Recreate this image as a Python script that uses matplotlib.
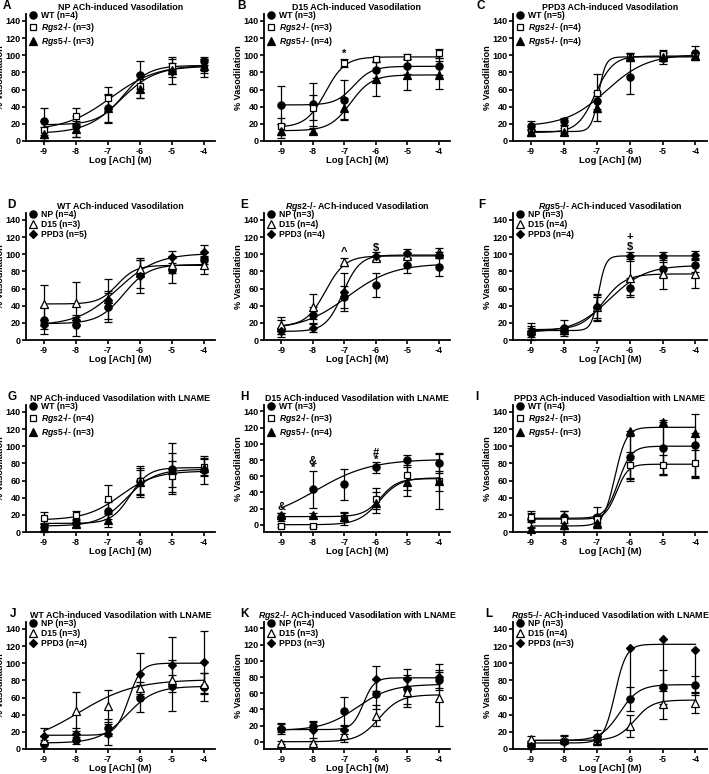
import numpy as np
import matplotlib
matplotlib.use('Agg')
import matplotlib.pyplot as plt
from matplotlib.lines import Line2D

plt.rcParams['font.family'] = ['Liberation Sans', 'DejaVu Sans']
plt.rcParams['font.weight'] = 'bold'
plt.rcParams['mathtext.fontset'] = 'custom'
plt.rcParams['mathtext.it'] = 'Liberation Sans:italic:bold'
plt.rcParams['mathtext.rm'] = 'Liberation Sans:bold'

LOG_ACH = [-9, -8, -7, -6, -5, -4]
Y_TICKS = [0, 20, 40, 60, 80, 100, 120, 140]

# mean % vasodilation, SEM, fitted curve (bottom, top, logEC50, hill)
NP_WT = [23, 17, 38, 77, 82, 93]
NP_WT_ERR = [16, 12, 17, 16, 16, 5]
NP_WT_FIT = [19, 88, -6.5, 1.1]
NP_RGS2 = [13, 29, 50, 64, 87, 85]
NP_RGS2_ERR = [10, 9, 13, 14, 9, 10]
NP_RGS2_FIT = [12, 89, -6.9, 0.6]
NP_RGS5 = [8, 14, 38, 61, 83, 87]
NP_RGS5_ERR = [8, 9, 16, 11, 8, 8]
NP_RGS5_FIT = [9, 87, -6.6, 0.8]

D15_WT = [42, 43, 48, 83, 87, 87]
D15_WT_ERR = [22, 25, 23, 10, 9, 10]
D15_WT_FIT = [42, 87, -6.7, 1.5]
D15_RGS2 = [17, 39, 91, 95, 98, 102]
D15_RGS2_ERR = [10, 15, 5, 3, 3, 5]
D15_RGS2_FIT = [16, 98, -7.6, 1.4]
D15_RGS5 = [12, 12, 38, 72, 77, 77]
D15_RGS5_ERR = [8, 3, 12, 20, 18, 16]
D15_RGS5_FIT = [12, 77, -6.8, 1.3]

PPD3_WT = [18, 23, 47, 75, 97, 103]
PPD3_WT_ERR = [5, 4, 10, 20, 7, 8]
PPD3_WT_FIT = [17, 101, -6.7, 0.7]
PPD3_RGS2 = [10, 14, 56, 98, 101, 99]
PPD3_RGS2_ERR = [3, 5, 22, 5, 5, 4]
PPD3_RGS2_FIT = [10, 99, -7.05, 1.6]
PPD3_RGS5 = [10, 11, 38, 98, 98, 99]
PPD3_RGS5_ERR = [4, 4, 15, 4, 5, 5]
PPD3_RGS5_FIT = [11, 98, -6.95, 4.0]

NPL_WT = [6, 10, 25, 59, 74, 72]
NPL_WT_ERR = [5, 4, 10, 16, 30, 16]
NPL_WT_FIT = [7, 73, -6.4, 1.0]
NPL_RGS2 = [16, 20, 38, 59, 65, 76]
NPL_RGS2_ERR = [7, 5, 17, 18, 18, 10]
NPL_RGS2_FIT = [14, 71, -6.6, 0.8]
NPL_RGS5 = [5, 9, 14, 58, 72, 75]
NPL_RGS5_ERR = [4, 3, 8, 14, 20, 10]
NPL_RGS5_FIT = [10, 75, -6.3, 1.5]

D15L_WT = [10, 44, 50, 71, 80, 76]
D15L_WT_ERR = [5, 23, 19, 7, 6, 12]
D15L_WT_FIT = [4, 81, -7.9, 0.5]
D15L_RGS2 = [-1, -1, 8, 32, 61, 54]
D15L_RGS2_ERR = [2, 2, 8, 13, 18, 35]
D15L_RGS2_FIT = [0, 58, -5.9, 1.3]
D15L_RGS5 = [12, 12, 10, 27, 53, 54]
D15L_RGS5_ERR = [3, 3, 5, 13, 18, 12]
D15L_RGS5_FIT = [10, 57, -5.85, 1.6]

PPD3L_WT = [15, 17, 17, 87, 98, 101]
PPD3L_WT_ERR = [10, 7, 12, 25, 32, 36]
PPD3L_WT_FIT = [16, 100, -6.35, 2.2]
PPD3L_RGS2 = [17, 14, 15, 78, 78, 80]
PPD3L_RGS2_ERR = [5, 10, 5, 15, 12, 16]
PPD3L_RGS2_FIT = [15, 79, -6.4, 2.5]
PPD3L_RGS5 = [3, 8, 10, 118, 128, 115]
PPD3L_RGS5_ERR_LO = [3, 8, 5, 58, 60, 52]
PPD3L_RGS5_ERR_HI = [3, 8, 5, 0, 0, 0]
PPD3L_RGS5_FIT = [7, 122, -6.45, 2.5]

RGS2 = r'$\mathit{Rgs2}$-/-'
RGS5 = r'$\mathit{Rgs5}$-/-'

GENO_STYLE = [dict(marker='o', mfc='k', ms=5.2),
              dict(marker='s', mfc='white', ms=5.0),
              dict(marker='^', mfc='k', ms=5.4)]
COND_STYLE = [dict(marker='o', mfc='k', ms=5.2),
              dict(marker='^', mfc='white', ms=5.4),
              dict(marker='D', mfc='k', ms=4.2)]

PANELS = [
    ('A', 'NP ACh-induced Vasodilation', GENO_STYLE,
     ['WT (n=4)', RGS2 + ' (n=3)', RGS5 + ' (n=3)'],
     [(NP_WT, NP_WT_ERR, NP_WT_FIT), (NP_RGS2, NP_RGS2_ERR, NP_RGS2_FIT),
      (NP_RGS5, NP_RGS5_ERR, NP_RGS5_FIT)], [], 0),
    ('B', 'D15 ACh-induced Vasodilation', GENO_STYLE,
     ['WT (n=3)', RGS2 + ' (n=3)', RGS5 + ' (n=4)'],
     [(D15_WT, D15_WT_ERR, D15_WT_FIT), (D15_RGS2, D15_RGS2_ERR, D15_RGS2_FIT),
      (D15_RGS5, D15_RGS5_ERR, D15_RGS5_FIT)], [(-7, 101, '*')], 0),
    ('C', 'PPD3 ACh-induced Vasodilation', GENO_STYLE,
     ['WT (n=5)', RGS2 + ' (n=4)', RGS5 + ' (n=4)'],
     [(PPD3_WT, PPD3_WT_ERR, PPD3_WT_FIT), (PPD3_RGS2, PPD3_RGS2_ERR, PPD3_RGS2_FIT),
      (PPD3_RGS5, PPD3_RGS5_ERR, PPD3_RGS5_FIT)], [], 0),
    ('D', 'WT ACh-induced Vasodilation', COND_STYLE,
     ['NP (n=4)', 'D15 (n=3)', 'PPD3 (n=5)'],
     [(NP_WT, NP_WT_ERR, NP_WT_FIT), (D15_WT, D15_WT_ERR, D15_WT_FIT),
      (PPD3_WT, PPD3_WT_ERR, PPD3_WT_FIT)], [], 0),
    ('E', RGS2 + ' ACh-induced Vasodilation', COND_STYLE,
     ['NP (n=3)', 'D15 (n=4)', 'PPD3 (n=4)'],
     [(NP_RGS2, NP_RGS2_ERR, NP_RGS2_FIT), (D15_RGS2, D15_RGS2_ERR, D15_RGS2_FIT),
      (PPD3_RGS2, PPD3_RGS2_ERR, PPD3_RGS2_FIT)], [(-7, 103, '^'), (-6, 107, '$')], 0),
    ('F', RGS5 + ' ACh-induced Vasodilation', COND_STYLE,
     ['NP (n=3)', 'D15 (n=4)', 'PPD3 (n=4)'],
     [(NP_RGS5, NP_RGS5_ERR, NP_RGS5_FIT), (D15_RGS5, D15_RGS5_ERR, D15_RGS5_FIT),
      (PPD3_RGS5, PPD3_RGS5_ERR, PPD3_RGS5_FIT)], [(-6, 120, '+'), (-6, 108, '$')], 0),
    ('G', 'NP ACh-induced Vasodilation with LNAME', GENO_STYLE,
     ['WT (n=3)', RGS2 + ' (n=4)', RGS5 + ' (n=3)'],
     [(NPL_WT, NPL_WT_ERR, NPL_WT_FIT), (NPL_RGS2, NPL_RGS2_ERR, NPL_RGS2_FIT),
      (NPL_RGS5, NPL_RGS5_ERR, NPL_RGS5_FIT)], [], 0),
    ('H', 'D15 ACh-induced Vasodilation with LNAME', GENO_STYLE,
     ['WT (n=3)', RGS2 + ' (n=3)', RGS5 + ' (n=4)'],
     [(D15L_WT, D15L_WT_ERR, D15L_WT_FIT), (D15L_RGS2, D15L_RGS2_ERR, D15L_RGS2_FIT),
      (D15L_RGS5, D15L_RGS5_ERR, D15L_RGS5_FIT)],
     [(-9, 22, '&'), (-8, 79, '&'), (-8, 70, '*'), (-6, 89, '#'), (-6, 80, '*')], -9),
    ('I', 'PPD3 ACh-induced Vasodialtion with LNAME', GENO_STYLE,
     ['WT (n=4)', RGS2 + ' (n=3)', RGS5 + ' (n=3)'],
     [(PPD3L_WT, PPD3L_WT_ERR, PPD3L_WT_FIT),
      (PPD3L_RGS2, PPD3L_RGS2_ERR, PPD3L_RGS2_FIT),
      (PPD3L_RGS5, [PPD3L_RGS5_ERR_LO, PPD3L_RGS5_ERR_HI], PPD3L_RGS5_FIT)], [], 0),
    ('J', 'WT ACh-induced Vasodilation with LNAME', COND_STYLE,
     ['NP (n=3)', 'D15 (n=3)', 'PPD3 (n=4)'],
     [(NPL_WT, NPL_WT_ERR, NPL_WT_FIT), (D15L_WT, D15L_WT_ERR, D15L_WT_FIT),
      (PPD3L_WT, PPD3L_WT_ERR, PPD3L_WT_FIT)], [], 0),
    ('K', RGS2 + ' ACh-induced Vasodilation with LNAME', COND_STYLE,
     ['NP (n=4)', 'D15 (n=3)', 'PPD3 (n=3)'],
     [(NPL_RGS2, NPL_RGS2_ERR, NPL_RGS2_FIT), (D15L_RGS2, D15L_RGS2_ERR, D15L_RGS2_FIT),
      (PPD3L_RGS2, PPD3L_RGS2_ERR, PPD3L_RGS2_FIT)], [], -9),
    ('L', RGS5 + ' ACh-induced Vasodilation with LNAME', COND_STYLE,
     ['NP (n=3)', 'D15 (n=4)', 'PPD3 (n=3)'],
     [(NPL_RGS5, NPL_RGS5_ERR, NPL_RGS5_FIT), (D15L_RGS5, D15L_RGS5_ERR, D15L_RGS5_FIT),
      (PPD3L_RGS5, [PPD3L_RGS5_ERR_LO, PPD3L_RGS5_ERR_HI], PPD3L_RGS5_FIT)], [], 0),
]

W, H = 709, 774
COL_LEFT = [26, 264, 513]
COL_W = [189, 186, 194]
ROW_BOTTOM = [141, 340, 532, 749]
AX_H = 127
LETTER_XY = [(3, 6), (237, 6), (477, 6), (7, 205), (240, 205), (478, 205),
             (7, 397), (240, 397), (475, 397), (10, 614), (240, 614), (485, 614)]


def sigmoid(x, p):
    bottom, top, ec50, hill = p
    return bottom + (top - bottom) / (1 + 10 ** ((ec50 - x) * hill))


fig = plt.figure(figsize=(W / 100, H / 100), dpi=100)
xs = np.linspace(-9, -4, 300)

for i, (letter, title, styles, labels, series, notes, ybot) in enumerate(PANELS):
    r, c = divmod(i, 3)
    ax = fig.add_axes([COL_LEFT[c] / W, 1 - ROW_BOTTOM[r] / H, COL_W[c] / W, AX_H / H])
    handles = []
    for (mean, err, fit), st in zip(series, styles):
        ax.plot(xs, sigmoid(xs, fit), color='k', lw=0.9, zorder=2)
        ax.errorbar(LOG_ACH, mean, yerr=err, fmt='none', ecolor='k', elinewidth=0.9,
                    capsize=2.8, capthick=0.9, zorder=3, clip_on=False)
        ax.plot(LOG_ACH, mean, ls='none', color='k', mec='k', mew=0.9, zorder=4,
                clip_on=False, **st)
        handles.append(Line2D([], [], ls='none', color='k', mec='k', mew=0.9, **st))
    for x, y, s in notes:
        ax.text(x, y, s, ha='center', va='center', fontsize=8, fontweight='bold')
    ax.legend(handles, labels, loc='upper left', bbox_to_anchor=(0.01, 1.04),
              frameon=False, handlelength=0.7, handletextpad=0.6, labelspacing=0.16,
              borderpad=0.1, borderaxespad=0.1, prop={'size': 6.2, 'weight': 'bold'})
    ax.set_xlim(-9.55, -3.65)
    ax.set_ylim(ybot, 148)
    ax.set_xticks(LOG_ACH)
    ax.set_xticklabels([str(v) for v in LOG_ACH])
    ax.set_yticks(Y_TICKS)
    ax.spines['top'].set_visible(False)
    ax.spines['right'].set_visible(False)
    ax.spines['left'].set_linewidth(1.3)
    ax.spines['bottom'].set_linewidth(1.3)
    ax.tick_params(direction='out', length=3, width=1.2, labelsize=6.5, pad=1)
    ax.set_xlabel('Log [ACh] (M)', fontsize=6.8, fontweight='bold', labelpad=0)
    ax.set_ylabel('% Vasodilation', fontsize=6.6, fontweight='bold', labelpad=0.5)
    ax.set_title(title, fontsize=6.4, fontweight='bold', pad=3)
    lx, ly = LETTER_XY[i]
    fig.text(lx / W, 1 - ly / H, letter, fontsize=8.5, fontweight='bold', va='center')

fig.savefig('out.png', dpi=100)
